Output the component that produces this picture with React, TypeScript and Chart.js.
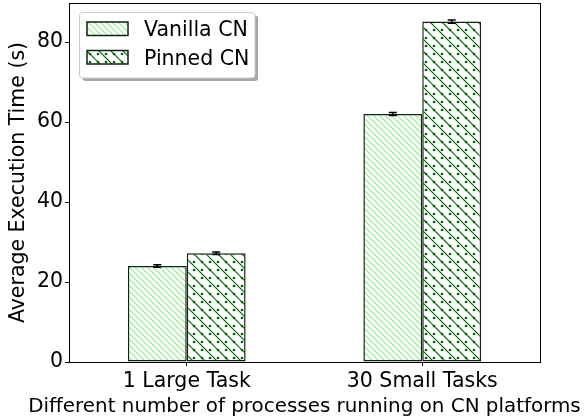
import React, { useEffect, useRef } from 'react';
import { Chart, registerables } from 'chart.js';

Chart.register(...registerables);

const categories = ['1 Large Task', '30 Small Tasks'];
const seriesNames = ['Vanilla CN', 'Pinned CN'];
const vanillaValues = [24.0, 62.0];
const pinnedValues = [27.2, 85.1];
const vanillaErrors = [0.3, 0.4];
const pinnedErrors = [0.3, 0.4];
const yTickValues = [0, 20, 40, 60, 80];
const yMax = 89.75;
const xTitle = 'Different number of processes running on CN platforms';
const yTitle = 'Average Execution Time (s)';

const FONT_FAMILY = '"DejaVu Sans", sans-serif';
const FONT_SIZE = 20.5;
const X_TITLE_SIZE = 19.9;
const EDGE = '#112211';

function makeVanillaPattern(ctx: CanvasRenderingContext2D) {
  const p = 6;
  const c = document.createElement('canvas');
  c.width = p;
  c.height = p;
  const g = c.getContext('2d')!;
  g.fillStyle = '#ffffff';
  g.fillRect(0, 0, p, p);
  g.strokeStyle = '#90ee90';
  g.lineWidth = 1.2;
  for (let k = -1; k <= 1; k++) {
    g.beginPath();
    g.moveTo(k * p - 2, -2);
    g.lineTo(k * p + p + 2, p + 2);
    g.stroke();
  }
  return ctx.createPattern(c, 'repeat')!;
}

function makePinnedPattern(ctx: CanvasRenderingContext2D) {
  const p = 24;
  const step = 12;
  const c = document.createElement('canvas');
  c.width = p;
  c.height = p;
  const g = c.getContext('2d')!;
  g.fillStyle = '#ffffff';
  g.fillRect(0, 0, p, p);
  g.strokeStyle = '#006400';
  g.lineWidth = 1.2;
  for (let k = -2; k <= 2; k++) {
    g.beginPath();
    g.moveTo(k * step - 2, -2);
    g.lineTo(k * step + p + 2, p + 2);
    g.stroke();
  }
  g.fillStyle = '#006400';
  for (let i = 0; i < 3; i++) {
    for (let j = 0; j < 3; j++) {
      g.beginPath();
      g.arc(2 + 8 * i, 6 + 8 * j, 1.3, 0, Math.PI * 2);
      g.fill();
    }
  }
  return ctx.createPattern(c, 'repeat')!;
}

export default function App() {
  const ref = useRef<HTMLCanvasElement | null>(null);

  useEffect(() => {
    const canvas = ref.current!;
    const ctx = canvas.getContext('2d')!;
    const vanillaPat = makeVanillaPattern(ctx);
    const pinnedPat = makePinnedPattern(ctx);
    const patterns = [vanillaPat, pinnedPat];
    const errors = [vanillaErrors, pinnedErrors];
    const values = [vanillaValues, pinnedValues];
    const font = { family: FONT_FAMILY, size: FONT_SIZE };

    const errorBars = {
      id: 'errorBars',
      afterDatasetsDraw(chart: any) {
        const c = chart.ctx;
        const ys = chart.scales.y;
        c.save();
        c.strokeStyle = '#000';
        c.lineWidth = 1.5;
        for (let d = 0; d < values.length; d++) {
          const meta = chart.getDatasetMeta(d);
          meta.data.forEach((bar: any, i: number) => {
            const v = values[d][i];
            const e = errors[d][i];
            const y1 = ys.getPixelForValue(v - e);
            const y2 = ys.getPixelForValue(v + e);
            const x = bar.x;
            c.beginPath();
            c.moveTo(x, y1);
            c.lineTo(x, y2);
            c.moveTo(x - 4, y1);
            c.lineTo(x + 4, y1);
            c.moveTo(x - 4, y2);
            c.lineTo(x + 4, y2);
            c.stroke();
          });
        }
        c.restore();
      },
    };

    const frameAndLegend = {
      id: 'frameAndLegend',
      afterDraw(chart: any) {
        const c = chart.ctx;
        const a = chart.chartArea;
        c.save();
        c.strokeStyle = '#000';
        c.lineWidth = 1;
        c.strokeRect(Math.round(a.left) + 0.5, Math.round(a.top) + 0.5, Math.round(a.right - a.left), Math.round(a.bottom - a.top));

        // x axis title (drawn here so it may extend past the plot width)
        c.fillStyle = '#000';
        c.font = `${X_TITLE_SIZE}px ${FONT_FAMILY}`;
        c.textAlign = 'center';
        c.textBaseline = 'alphabetic';
        c.fillText(xTitle, (a.left + a.right) / 2, 411.5);

        const lx = 79.5, ly = 12.5, lw = 175.5, lh = 65.5, r = 3;
        const rr = (x: number, y: number, w: number, h: number) => {
          c.beginPath();
          c.moveTo(x + r, y);
          c.lineTo(x + w - r, y);
          c.arcTo(x + w, y, x + w, y + r, r);
          c.lineTo(x + w, y + h - r);
          c.arcTo(x + w, y + h, x + w - r, y + h, r);
          c.lineTo(x + r, y + h);
          c.arcTo(x, y + h, x, y + h - r, r);
          c.lineTo(x, y + r);
          c.arcTo(x, y, x + r, y, r);
          c.closePath();
        };
        rr(lx + 3, ly + 3, lw, lh);
        c.fillStyle = 'rgba(0,0,0,0.35)';
        c.fill();
        rr(lx, ly, lw, lh);
        c.fillStyle = '#ffffff';
        c.fill();
        c.strokeStyle = '#cccccc';
        c.lineWidth = 1;
        c.stroke();

        const handleYs = [22, 50.5];
        const textYs = [36, 64.5];
        for (let i = 0; i < 2; i++) {
          c.fillStyle = patterns[i];
          c.fillRect(87, handleYs[i], 41, 13.5);
          c.strokeStyle = EDGE;
          c.lineWidth = 1.5;
          c.strokeRect(87, handleYs[i], 41, 13.5);
          c.fillStyle = '#000';
          c.font = `${FONT_SIZE}px ${FONT_FAMILY}`;
          c.textAlign = 'left';
          c.textBaseline = 'alphabetic';
          c.fillText(seriesNames[i], 144, textYs[i]);
        }
        c.restore();
      },
    };

    const chart = new Chart(ctx, {
      type: 'bar',
      data: {
        labels: categories,
        datasets: [
          {
            label: seriesNames[0],
            data: vanillaValues,
            backgroundColor: vanillaPat,
            borderColor: EDGE,
            borderWidth: 1.5,
            borderSkipped: false,
            categoryPercentage: 0.5,
            barPercentage: 1,
          },
          {
            label: seriesNames[1],
            data: pinnedValues,
            backgroundColor: pinnedPat,
            borderColor: EDGE,
            borderWidth: 1.5,
            borderSkipped: false,
            categoryPercentage: 0.5,
            barPercentage: 1,
          },
        ],
      },
      options: {
        responsive: false,
        animation: false,
        layout: { padding: { left: 0, top: 3, right: 45, bottom: 0 } },
        plugins: { legend: { display: false }, tooltip: { enabled: false } },
        scales: {
          x: {
            grid: { display: true, drawOnChartArea: false, offset: false, tickLength: 4, color: '#000', lineWidth: 1 },
            border: { display: false },
            ticks: { font, color: '#000', padding: 3 },
            title: { display: false },
            afterFit: (s: any) => {
              s.height = 58;
              s.paddingLeft = 0;
              s.paddingRight = 0;
            },
          },
          y: {
            min: 0,
            max: yMax,
            afterBuildTicks: (s: any) => {
              s.ticks = yTickValues.map((v) => ({ value: v }));
            },
            grid: { display: true, drawOnChartArea: false, tickLength: 4, color: '#000', lineWidth: 1 },
            border: { display: false },
            ticks: { font, color: '#000', padding: 2 },
            title: { display: true, text: yTitle, font, color: '#000', padding: { top: 6, bottom: 0 } },
            afterFit: (s: any) => {
              s.width = 69;
              s.paddingTop = 0;
              s.paddingBottom = 0;
            },
          },
        },
      },
      plugins: [errorBars, frameAndLegend],
    } as any);
    return () => chart.destroy();
  }, []);

  return (
    <div style={{ position: 'fixed', left: 0, top: 0, width: 585, height: 420, background: '#fff' }}>
      <canvas ref={ref} width={585} height={420} style={{ width: 585, height: 420, display: 'block' }} />
    </div>
  );
}
